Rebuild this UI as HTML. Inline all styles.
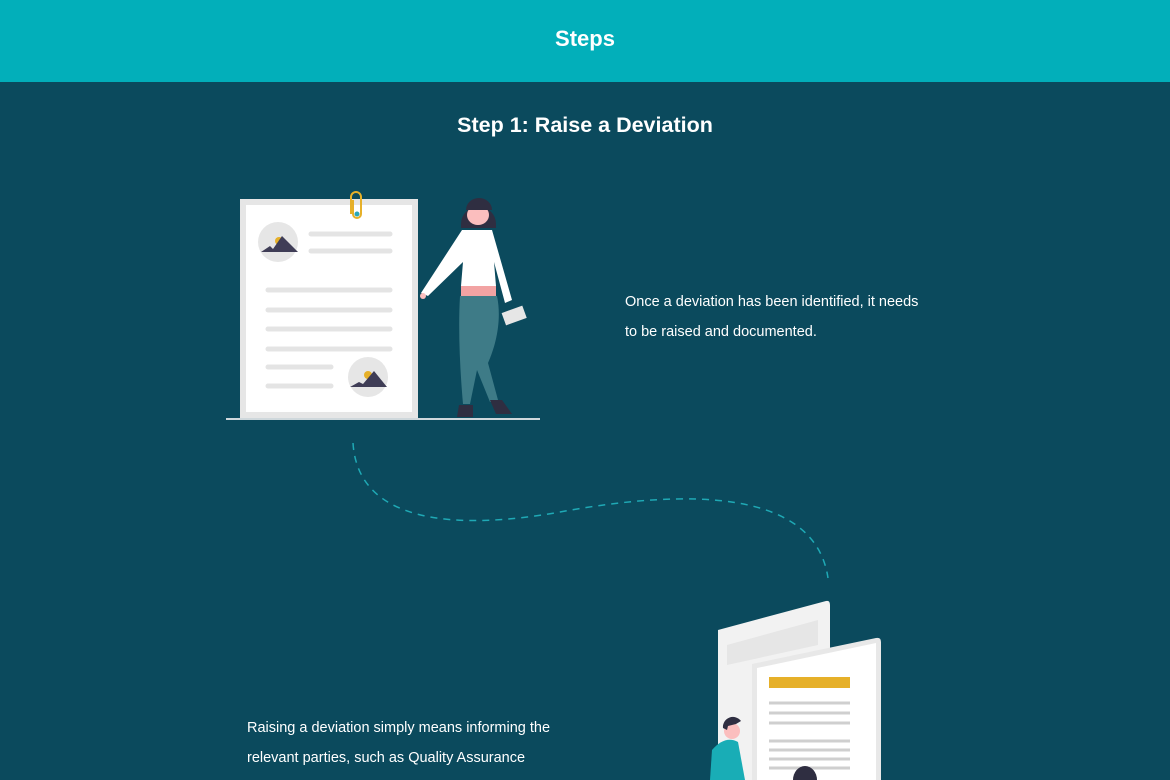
<!DOCTYPE html>
<html><head><meta charset="utf-8"><style>
body{margin:0;width:1170px;height:780px;overflow:hidden;background:#0b4a5d;font-family:"Liberation Sans",sans-serif;position:relative}
.hdr{position:absolute;left:0;top:0;width:1170px;height:82px;background:#02afba;color:#fff;font-weight:bold;font-size:22px;text-align:center;line-height:78px}
.h2{position:absolute;top:113px;left:0;width:1170px;text-align:center;color:#fff;font-weight:bold;font-size:21.5px}
.p{position:absolute;color:#fff;font-size:14.5px;line-height:30px}
</style></head><body>
<div class="hdr">Steps</div>
<div class="h2">Step 1: Raise a Deviation</div>
<div class="p" style="left:625px;top:287px">Once a deviation has been identified, it needs<br>to be raised and documented.</div>
<div class="p" style="left:247px;top:713px">Raising a deviation simply means informing the<br>relevant parties, such as Quality Assurance</div>
<svg width="1170" height="780" style="position:absolute;left:0;top:0">
<line x1="226" y1="419" x2="540" y2="419" stroke="#cfd8dc" stroke-width="2"/>
<rect x="240" y="199" width="178" height="219" fill="#e6e6e6"/>
<rect x="246" y="205" width="166" height="207" fill="#fff"/>
<path d="M351 214 V197 a5 5 0 0 1 10 0 V214 a4 4 0 0 1 -8 0 V200" fill="none" stroke="#e6b029" stroke-width="2"/>
<circle cx="357" cy="214" r="2.5" fill="#2aa7b8"/>
<circle cx="278" cy="242" r="20" fill="#e6e6e6"/>
<circle cx="279" cy="241" r="4" fill="#e6b029"/>
<path d="M261 252 L270 246 L273 249 L282 236 L298 252 Z" fill="#3f3d56"/>
<g stroke="#e4e4e4" stroke-width="5" stroke-linecap="round">
<line x1="311" y1="234" x2="390" y2="234"/><line x1="311" y1="251" x2="390" y2="251"/>
<line x1="268" y1="290" x2="390" y2="290"/><line x1="268" y1="310" x2="390" y2="310"/>
<line x1="268" y1="329" x2="390" y2="329"/><line x1="268" y1="349" x2="390" y2="349"/>
<line x1="268" y1="367" x2="331" y2="367"/><line x1="268" y1="386" x2="331" y2="386"/>
</g>
<circle cx="368" cy="377" r="20" fill="#e6e6e6"/>
<circle cx="368" cy="375" r="4" fill="#e6b029"/>
<path d="M350 387 L359 382 L363 384 L374 371 L387 387 Z" fill="#3f3d56"/>
<path d="M461 224 a17 17 0 0 1 35 0 v4 h-35z" fill="#2f2e41"/>
<ellipse cx="478" cy="215" rx="11" ry="10" fill="#fbbebe"/>
<path d="M466 210 a13 12 0 0 1 26 0 h-26z" fill="#2f2e41"/>
<path d="M462 230 L492 230 L512 300 L505 303 L494 262 L496 286 L461 286 L463 262 L428 296 L421 293 Z" fill="#fff"/>
<path d="M461 286 h35 v10 h-35z" fill="#f2a3a3"/>
<path d="M460 296 L497 296 C502 320 496 345 488 363 L498 400 L490 402 L477 370 L470 404 L463 404 C460 370 458 330 460 296Z" fill="#3e7b87"/>
<path d="M459 405 h14 v12 h-16z M490 400 h12 l10 14 h-16z" fill="#2f2e41"/>
<rect x="503" y="309" width="22" height="13" fill="#e6e6e6" transform="rotate(-20 514 315)"/>
<circle cx="423" cy="296" r="3" fill="#fbbebe"/>
<path d="M353 443 C358 525 460 530 560 512 C690 488 815 490 828 578" fill="none" stroke="#1fa9b5" stroke-width="1.5" stroke-dasharray="7 6"/>
<path d="M718 630 L826 601 Q830 600 830 605 L830 780 L718 780 Z" fill="#f2f2f2"/>
<path d="M727 645 L818 620 L818 645 L727 665 Z" fill="#e6e6e6"/>
<path d="M752 664 L876 638 Q881 637 881 642 L881 780 L752 780 Z" fill="#e8e8e8"/>
<path d="M757 668 L876 643 L876 780 L757 780 Z" fill="#fff"/>
<rect x="769" y="677" width="81" height="11" fill="#e6b029"/>
<g stroke="#cfcfcf" stroke-width="3">
<line x1="769" y1="703" x2="850" y2="703"/><line x1="769" y1="713" x2="850" y2="713"/><line x1="769" y1="723" x2="850" y2="723"/>
<line x1="769" y1="741" x2="850" y2="741"/><line x1="769" y1="750" x2="850" y2="750"/><line x1="769" y1="759" x2="850" y2="759"/><line x1="769" y1="768" x2="850" y2="768"/>
</g>
<circle cx="732" cy="731" r="8" fill="#fbbebe"/>
<path d="M723 728 a10 10 0 0 1 18 -7 l-5 3 -8 2 -1 4z" fill="#2f2e41"/>
<path d="M712 750 Q725 735 738 742 L745 780 L710 780Z" fill="#19adb6"/>
<path d="M793 780 a12 14 0 0 1 24 0z" fill="#2f2e41"/>
</svg>
</body></html>
